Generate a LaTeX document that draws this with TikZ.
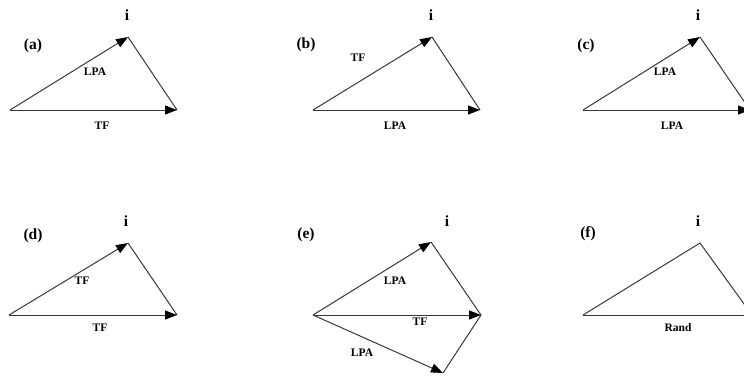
\documentclass[tikz,border=0pt]{standalone}
\usepackage{fontspec}
\setmainfont{Liberation Serif}
\usetikzlibrary{arrows.meta}
\tikzset{
  edge/.style={draw=black!78, line width=1pt},
  vec/.style={edge, -{Triangle[length=12pt,width=9pt,fill=black,color=black]}},
  lbl/.style={font=\fontsize{11.5}{13}\selectfont\bfseries, inner sep=0pt},
  tag/.style={font=\fontsize{15.5}{17}\selectfont\bfseries, inner sep=0pt},
  top/.style={font=\fontsize{15.5}{17}\selectfont\bfseries, inner sep=0pt},
}
\begin{document}
\begin{tikzpicture}[x=1pt,y=-1pt]
\useasboundingbox (0,0) rectangle (744,378);
% panel a
\coordinate (aL) at (10,110); \coordinate (aT) at (128,37); \coordinate (aR) at (177,110);
\node[top] (ai) at (127,15) {i};
\node[tag] (at) at (33,46) {(a)};
\draw[vec] (aL) -- (aT);
\draw[edge] (aT) -- (aR);
\draw[vec] (aL) -- (aR);
\node[lbl] (a1) at (95,72) {LPA};
\node[lbl] (a2) at (102,126) {TF};
% panel b
\coordinate (bL) at (313,110); \coordinate (bT) at (432,37); \coordinate (bR) at (480,110);
\node[top] (bi) at (431,15) {i};
\node[tag] (bt) at (306,45) {(b)};
\draw[vec] (bL) -- (bT);
\draw[edge] (bT) -- (bR);
\draw[vec] (bL) -- (bR);
\node[lbl] (b1) at (358,58) {TF};
\node[lbl] (b2) at (395,126) {LPA};
% panel c
\coordinate (cL) at (583,110); \coordinate (cT) at (700,37); \coordinate (cR) at (750,110);
\node[top] (ci) at (698,15) {i};
\node[tag] (ct) at (586,46) {(c)};
\draw[vec] (cL) -- (cT);
\draw[edge] (cT) -- (cR);
\draw[vec] (cL) -- (cR);
\node[lbl] (c1) at (665,72) {LPA};
\node[lbl] (c2) at (672,126) {LPA};
% panel d
\coordinate (dL) at (9,315); \coordinate (dT) at (128,243); \coordinate (dR) at (177,315);
\node[top] (di) at (126,221) {i};
\node[tag] (dt) at (33,236) {(d)};
\draw[vec] (dL) -- (dT);
\draw[edge] (dT) -- (dR);
\draw[vec] (dL) -- (dR);
\node[lbl] (d1) at (82,281) {TF};
\node[lbl] (d2) at (100,328) {TF};
% panel e
\coordinate (eL) at (313,315); \coordinate (eT) at (431,242); \coordinate (eR) at (481,315); \coordinate (eB) at (443,373);
\node[top] (ei) at (447,221) {i};
\node[tag] (et) at (306,235) {(e)};
\draw[vec] (eL) -- (eT);
\draw[edge] (eT) -- (eR);
\draw[vec] (eL) -- (eR);
\draw[vec] (eL) -- (eB);
\draw[edge] (eR) -- (eB);
\node[lbl] (e1) at (395,281) {LPA};
\node[lbl] (e2) at (420,322) {TF};
\node[lbl] (e3) at (362,353) {LPA};
% panel f
\coordinate (fL) at (583,315); \coordinate (fT) at (700,243); \coordinate (fR) at (752,315);
\node[top] (fi) at (698,221) {i};
\node[tag] (ft) at (588,234) {(f)};
\draw[edge] (fL) -- (fT) -- (fR);
\draw[edge] (fL) -- (fR);
\node[lbl] (f1) at (678,328) {Rand};
\end{tikzpicture}
\end{document}
